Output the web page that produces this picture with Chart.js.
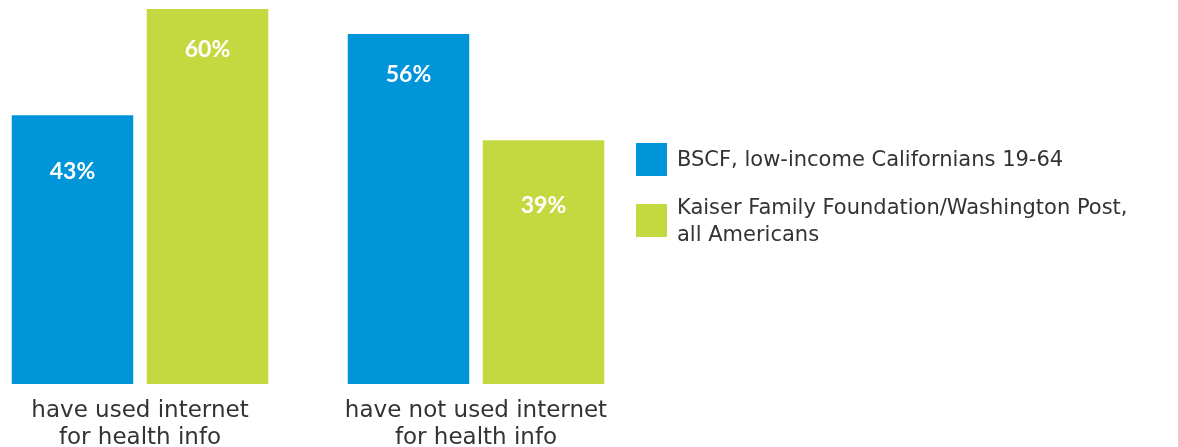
<!DOCTYPE html>
<html>
<head>
<meta charset="utf-8">
<script src="https://cdn.jsdelivr.net/npm/chart.js@4"></script>
<style>
  html, body { margin: 0; padding: 0; background: #fff; overflow: hidden; }
  #wrap { position: relative; width: 1178px; height: 447px; }
  /* canvas is shifted left so the two bar groups sit near the page edge */
  #chart-box { position: absolute; left: -28px; top: 0; width: 1206px; height: 447px; }
  #legend { position: absolute; left: 636px; top: 0; font-family: "DejaVu Sans", sans-serif; font-size: 21px; color: #333; }
  .item { position: absolute; left: 0; display: flex; align-items: center; white-space: nowrap; }
  .swatch { width: 31px; height: 33px; margin-right: 10px; flex: none; }
  .text { line-height: 27px; }
</style>
</head>
<body>
<div id="wrap">
  <div id="chart-box"><canvas id="bars"></canvas></div>
  <div id="legend"></div>
</div>
<script>
// Categories and series
const categories = [
    ['have used internet', 'for health info'],
    ['have not used internet', 'for health info']
];
const seriesNames = [
    ['BSCF, low-income Californians 19-64'],
    ['Kaiser Family Foundation/Washington Post,', 'all Americans']
];
const bscfValues = [43, 56];
const kaiserValues = [60, 39];

const BLUE = '#0095d9';
const GREEN = '#c4d840';

// how far below each bar top the percentage sits
const labelDrop = [[56, 41], [41, 65]];

// Draws white percentage labels inside each bar
const valueLabels = {
    id: 'valueLabels',
    afterDatasetsDraw(chart) {
        const ctx = chart.ctx;
        ctx.save();
        ctx.fillStyle = '#ffffff';
        ctx.font = 'bold 23px Lato, sans-serif';
        ctx.textAlign = 'center';
        ctx.textBaseline = 'middle';
        chart.data.datasets.forEach((ds, i) => {
            chart.getDatasetMeta(i).data.forEach((bar, j) => {
                ctx.fillText(ds.data[j] + '%', bar.x, bar.y + labelDrop[i][j]);
            });
        });
        ctx.restore();
    }
};

const ctx = document.getElementById('bars').getContext('2d');
const chart = new Chart(ctx, {
    type: 'bar',
    data: {
        labels: categories,
        datasets: [
            { label: seriesNames[0].join(' '), data: bscfValues, backgroundColor: BLUE },
            { label: seriesNames[1].join(' '), data: kaiserValues, backgroundColor: GREEN }
        ]
    },
    options: {
        responsive: true,
        maintainAspectRatio: false,
        animation: false,
        categoryPercentage: 0.8036,
        barPercentage: 0.9,
        layout: {
            padding: { top: 9, right: 534, left: 0, bottom: 0 }
        },
        plugins: {
            legend: { display: false },
            tooltip: { enabled: false }
        },
        scales: {
            y: {
                display: false,
                min: 0,
                max: 60
            },
            x: {
                grid: { display: false, drawTicks: false },
                border: { display: false },
                ticks: {
                    color: '#333',
                    padding: 14,
                    font: { family: 'DejaVu Sans', size: 23, lineHeight: 27 / 23 }
                },
                afterFit(scale) {
                    scale.height = 63;
                }
            }
        }
    },
    plugins: [valueLabels]
});

// HTML legend on the right
const legendBox = document.getElementById('legend');
const legendTops = [143, 204];
[BLUE, GREEN].forEach((color, i) => {
    const item = document.createElement('div');
    item.className = 'item';
    const sw = document.createElement('div');
    sw.className = 'swatch';
    sw.style.background = color;
    const txt = document.createElement('div');
    txt.className = 'text';
    txt.innerHTML = seriesNames[i].join('<br>');
    item.appendChild(sw);
    item.appendChild(txt);
    legendBox.appendChild(item);
    // centre the swatch on its text block
    item.style.top = (legendTops[i] + 16.5 - item.offsetHeight / 2) + 'px';
});
</script>
</body>
</html>
